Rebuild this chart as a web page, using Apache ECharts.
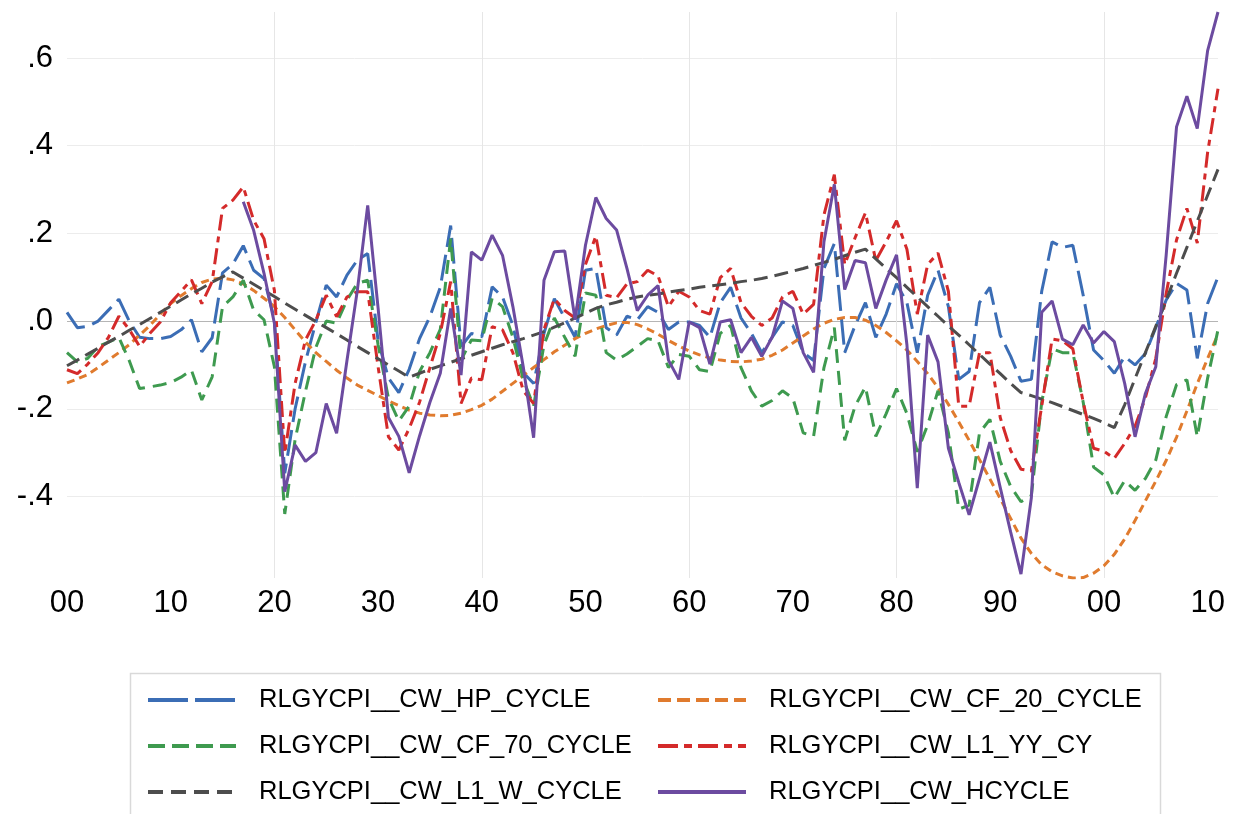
<!DOCTYPE html>
<html>
<head>
<meta charset="utf-8">
<style>
  html, body { margin: 0; padding: 0; background: #fff; }
  #chart { width: 1248px; height: 814px; }
</style>
<script src="https://cdn.jsdelivr.net/npm/echarts@6.0.0/dist/echarts.min.js"></script>
</head>
<body>
<div id="chart"></div>
<script>
// years 1900..2011
const years = [];
for (let y = 1900; y <= 2011; y++) years.push(String(y));

const seriesNames = [
  'RLGYCPI__CW_HP_CYCLE', 'RLGYCPI__CW_CF_20_CYCLE',
  'RLGYCPI__CW_CF_70_CYCLE', 'RLGYCPI__CW_L1_YY_CY',
  'RLGYCPI__CW_L1_W_CYCLE', 'RLGYCPI__CW_HCYCLE'
];

const hpCycle = [
  0.020, -0.015, -0.012, 0.000, 0.025, 0.050, 0.000, -0.037, -0.040, -0.040,
  -0.035, -0.020, 0.003, -0.070, -0.038, 0.110, 0.130, 0.172, 0.116, 0.097,
  0.005, -0.347, -0.200, -0.092, -0.003, 0.082, 0.055, 0.105, 0.139, 0.154,
  -0.045, -0.130, -0.163, -0.110, -0.040, 0.010, 0.077, 0.218, -0.058, -0.028,
  -0.036, 0.078, 0.055, -0.010, -0.118, -0.142, -0.028, 0.051, 0.007, -0.037,
  0.116, 0.120, -0.015, -0.032, 0.011, 0.003, 0.033, 0.020, -0.019, -0.002,
  -0.002, -0.010, -0.037, 0.042, 0.077, 0.007, -0.028, -0.072, -0.037, -0.002,
  -0.010, -0.072, -0.090, 0.120, 0.177, -0.072, -0.010, 0.042, -0.037, 0.016,
  0.085, 0.042, -0.072, 0.059, 0.116, 0.033, -0.133, -0.115, 0.042, 0.077,
  -0.032, -0.080, -0.137, -0.133, 0.068, 0.181, 0.168, 0.173, 0.059, -0.066,
  -0.090, -0.119, -0.081, -0.100, -0.074, -0.015, 0.048, 0.086, 0.071, -0.085,
  0.040, 0.101
];

const cf20Cycle = [
  -0.141, -0.132, -0.122, -0.106, -0.089, -0.072, -0.054, -0.032, -0.010, 0.016,
  0.040, 0.058, 0.074, 0.088, 0.096, 0.098, 0.094, 0.085, 0.070, 0.052,
  0.033, 0.008, -0.020, -0.048, -0.072, -0.092, -0.112, -0.130, -0.146, -0.158,
  -0.170, -0.182, -0.193, -0.203, -0.210, -0.214, -0.216, -0.215, -0.210, -0.202,
  -0.192, -0.178, -0.160, -0.142, -0.124, -0.106, -0.088, -0.070, -0.055, -0.040,
  -0.028, -0.018, -0.010, -0.004, -0.003, -0.008, -0.018, -0.030, -0.044, -0.057,
  -0.068, -0.077, -0.084, -0.089, -0.092, -0.093, -0.091, -0.087, -0.078, -0.066,
  -0.050, -0.034, -0.018, -0.005, 0.004, 0.008, 0.008, 0.002, -0.010, -0.026,
  -0.045, -0.066, -0.092, -0.120, -0.152, -0.190, -0.230, -0.272, -0.316, -0.360,
  -0.405, -0.450, -0.495, -0.530, -0.556, -0.572, -0.581, -0.586, -0.585, -0.575,
  -0.558, -0.532, -0.497, -0.455, -0.410, -0.365, -0.318, -0.265, -0.205, -0.143,
  -0.085, -0.030
];

const cf70Cycle = [
  -0.072, -0.093, -0.085, -0.058, -0.048, -0.037, -0.090, -0.154, -0.150, -0.146,
  -0.140, -0.128, -0.112, -0.180, -0.127, 0.033, 0.055, 0.093, 0.025, 0.003,
  -0.104, -0.440, -0.270, -0.160, -0.060, 0.000, -0.005, 0.048, 0.086, 0.093,
  -0.054, -0.176, -0.228, -0.194, -0.115, -0.072, -0.019, 0.188, -0.089, -0.043,
  -0.045, 0.052, 0.033, -0.037, -0.133, -0.194, -0.054, 0.007, -0.037, -0.080,
  0.064, 0.059, -0.072, -0.089, -0.075, -0.058, -0.040, -0.045, -0.106, -0.076,
  -0.080, -0.111, -0.115, -0.028, -0.010, -0.106, -0.159, -0.194, -0.181, -0.159,
  -0.176, -0.255, -0.263, -0.106, -0.015, -0.272, -0.194, -0.150, -0.263, -0.211,
  -0.154, -0.211, -0.298, -0.237, -0.159, -0.255, -0.429, -0.420, -0.255, -0.224,
  -0.320, -0.377, -0.412, -0.398, -0.185, -0.063, -0.072, -0.072, -0.185, -0.333,
  -0.351, -0.403, -0.364, -0.386, -0.359, -0.317, -0.218, -0.145, -0.134, -0.264,
  -0.130, -0.020
];

const l1yyCycle = [
  -0.111, -0.120, -0.098, -0.072, -0.037, 0.011, -0.019, -0.058, -0.028, -0.002,
  0.042, 0.068, 0.094, 0.040, 0.090, 0.257, 0.276, 0.306, 0.230, 0.188,
  0.070, -0.302, -0.142, -0.043, 0.002, 0.059, 0.010, 0.055, 0.067, 0.067,
  -0.104, -0.264, -0.294, -0.245, -0.185, -0.106, -0.028, 0.090, -0.188, -0.130,
  -0.134, -0.013, -0.020, -0.072, -0.159, -0.188, -0.019, 0.051, 0.024, 0.007,
  0.129, 0.194, 0.059, 0.053, 0.085, 0.090, 0.116, 0.103, 0.033, 0.068,
  0.055, 0.024, 0.016, 0.099, 0.120, 0.042, 0.011, -0.010, 0.007, 0.055,
  0.068, 0.016, 0.038, 0.242, 0.334, 0.129, 0.190, 0.247, 0.138, 0.181,
  0.229, 0.164, 0.016, 0.129, 0.155, 0.068, -0.194, -0.194, -0.072, -0.072,
  -0.220, -0.295, -0.338, -0.342, -0.194, -0.041, -0.045, -0.063, -0.185, -0.290,
  -0.297, -0.313, -0.279, -0.240, -0.175, -0.085, 0.063, 0.185, 0.257, 0.178,
  0.385, 0.530
];

const l1wCycle = [
  -0.102, -0.089, -0.075, -0.062, -0.048, -0.035, -0.021, -0.008, 0.006, 0.020,
  0.034, 0.048, 0.062, 0.075, 0.089, 0.101, 0.112, 0.098, 0.084, 0.070,
  0.056, 0.041, 0.027, 0.013, -0.001, -0.015, -0.029, -0.043, -0.058, -0.072,
  -0.086, -0.100, -0.114, -0.128, -0.119, -0.110, -0.102, -0.094, -0.086, -0.078,
  -0.070, -0.062, -0.054, -0.047, -0.040, -0.032, -0.024, -0.014, -0.004, 0.007,
  0.018, 0.029, 0.037, 0.043, 0.050, 0.055, 0.059, 0.062, 0.066, 0.070,
  0.073, 0.077, 0.080, 0.083, 0.086, 0.090, 0.093, 0.097, 0.102, 0.108,
  0.114, 0.120, 0.127, 0.134, 0.141, 0.149, 0.157, 0.164, 0.142, 0.120,
  0.099, 0.077, 0.055, 0.033, 0.011, -0.011, -0.032, -0.054, -0.076, -0.098,
  -0.120, -0.142, -0.163, -0.170, -0.178, -0.186, -0.195, -0.204, -0.213, -0.222,
  -0.232, -0.243, -0.191, -0.131, -0.072, -0.012, 0.047, 0.109, 0.168, 0.228,
  0.287, 0.346
];

// HCYCLE starts in 1917
const hCycle = [
  null, null, null, null, null, null, null, null, null, null,
  null, null, null, null, null, null, null, 0.272, 0.207, 0.109,
  -0.005, -0.389, -0.283, -0.320, -0.300, -0.188, -0.256, -0.090, 0.070, 0.264,
  0.030, -0.220, -0.263, -0.346, -0.262, -0.185, -0.119, 0.029, -0.123, 0.158,
  0.139, 0.196, 0.150, 0.033, -0.104, -0.266, 0.093, 0.158, 0.160, 0.003,
  0.173, 0.282, 0.234, 0.208, 0.120, 0.024, 0.059, 0.081, -0.089, -0.133,
  -0.002, -0.015, -0.098, -0.002, 0.003, -0.072, -0.037, -0.080, -0.037, 0.046,
  0.029, -0.072, -0.117, 0.181, 0.312, 0.072, 0.138, 0.133, 0.029, 0.094,
  0.151, -0.054, -0.381, -0.032, -0.093, -0.290, -0.368, -0.442, -0.359, -0.276,
  -0.380, -0.481, -0.577, -0.403, 0.020, 0.046, -0.041, -0.054, -0.009, -0.050,
  -0.024, -0.047, -0.142, -0.264, -0.165, -0.104, 0.150, 0.443, 0.513, 0.439,
  0.617, 0.705
];

const colors = ['#3b6db5', '#e07b2e', '#3e9a4f', '#d42a2a', '#4d4d4d', '#6c4ba0'];
const dashes = [[26, 8], [8, 5], [14, 8], [16, 6, 6, 6], [14, 7], 'solid'];
// the legend samples use longer dashes than the plot
const legendDashes = [[40, 7], [13, 6], [17, 7], [20, 6, 8, 6], [15, 8], 'solid'];
const allData = [hpCycle, cf20Cycle, cf70Cycle, l1yyCycle, l1wCycle, hCycle];

const font = 'Liberation Sans, Arial, sans-serif';
const chart = echarts.init(document.getElementById('chart'));

const legendItem = i => ({
    name: seriesNames[i],
    lineStyle: { type: legendDashes[i], width: 4 }
});

const legendBase = {
    orient: 'vertical',
    top: 685,
    padding: 0,
    itemWidth: 88,
    itemHeight: 14,
    itemGap: 16,
    itemStyle: { opacity: 0 },
    textStyle: {
        fontSize: 25.5,
        fontFamily: font,
        color: '#000',
        lineHeight: 30,
        padding: [0, 0, 0, 18]
    }
};

chart.setOption({
    animation: false,
    grid: { left: 67, right: 30, top: 12, bottom: 236 },
    legend: [
        Object.assign({}, legendBase, { left: 146, data: [legendItem(0), legendItem(2), legendItem(4)] }),
        Object.assign({}, legendBase, { left: 656, data: [legendItem(1), legendItem(3), legendItem(5)] })
    ],
    graphic: [{
        type: 'rect',
        left: 128,
        top: 671,
        shape: { width: 1030, height: 200 },
        style: { fill: 'none', stroke: '#d9d9d9', lineWidth: 1.5 },
        silent: true
    }],
    xAxis: {
        type: 'category',
        data: years,
        boundaryGap: false,
        axisLine: { show: false },
        axisTick: { show: false },
        axisLabel: {
            interval: (i, v) => Number(v) % 10 === 0,
            formatter: v => v.slice(2),
            fontSize: 31,
            fontFamily: font,
            color: '#000',
            margin: 10
        },
        splitLine: {
            show: true,
            interval: (i, v) => Number(v) % 20 === 0 && v !== '1900',
            lineStyle: { color: '#e6e6e6', width: 1 }
        }
    },
    yAxis: {
        type: 'value',
        min: -0.586,
        max: 0.705,
        minInterval: 0.2,
        maxInterval: 0.2,
        axisLine: { show: false },
        axisTick: { show: false },
        axisLabel: {
            showMinLabel: false,
            showMaxLabel: false,
            formatter: v => v.toFixed(1).replace('0.', '.'),
            fontSize: 31,
            fontFamily: font,
            color: '#000',
            margin: 14
        },
        splitLine: {
            show: true,
            showMinLine: false,
            showMaxLine: false,
            lineStyle: {
                // -.4, -.2, .0, .2, .4, .6
                color: ['#ececec', '#ececec', '#b5b5b5', '#ececec', '#ececec', '#ececec'],
                width: 1
            }
        }
    },
    series: seriesNames.map((name, i) => ({
        name: name,
        type: 'line',
        data: allData[i],
        symbol: 'none',
        connectNulls: false,
        color: colors[i],
        lineStyle: { color: colors[i], width: 3, type: dashes[i] }
    }))
});
</script>
</body>
</html>
